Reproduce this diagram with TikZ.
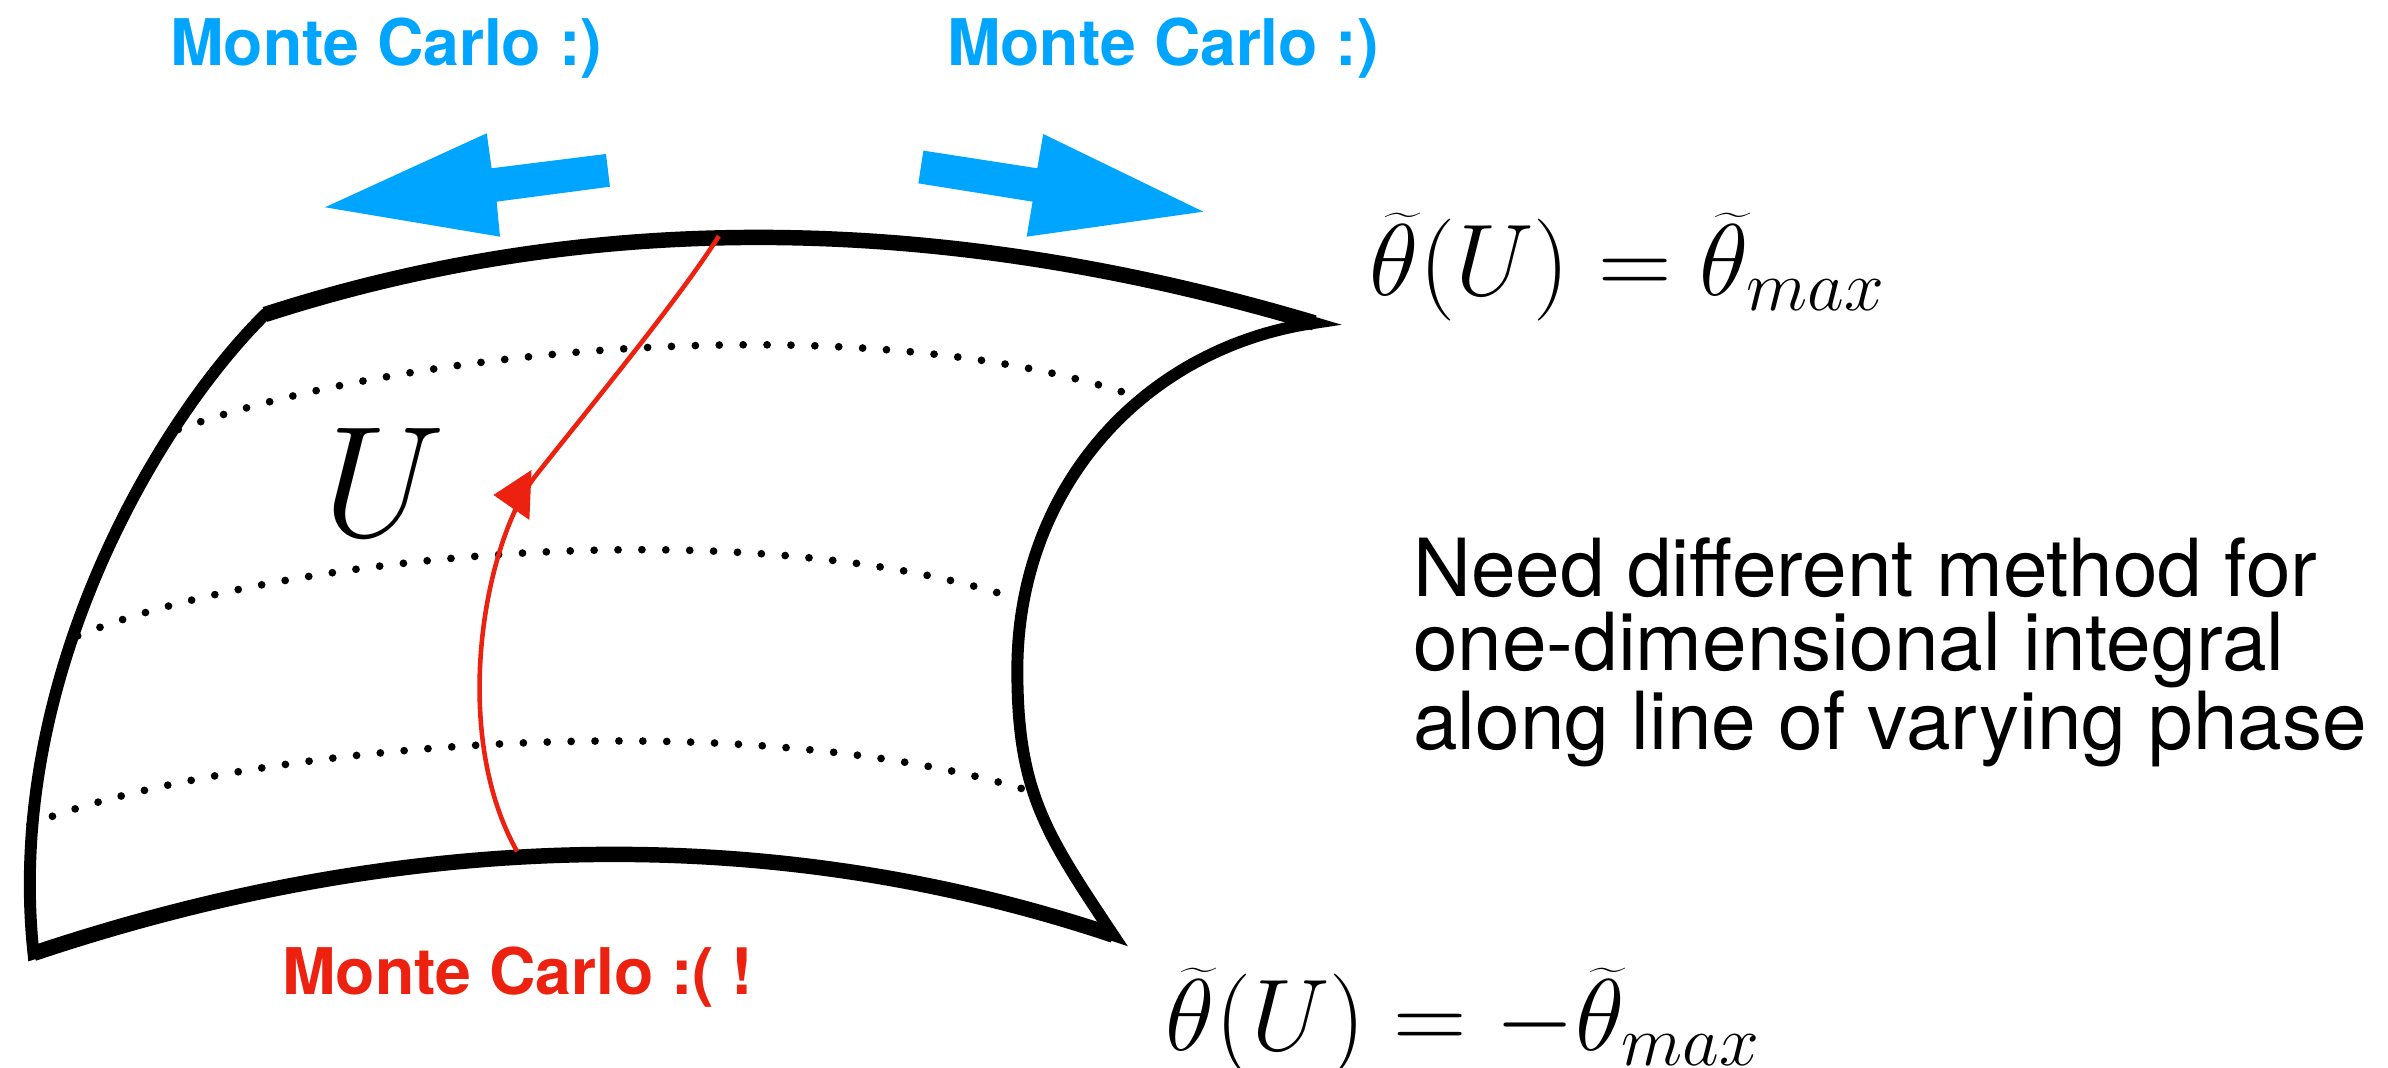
\documentclass[tikz,border=0pt]{standalone}
\usepackage{fix-cm}
\usepackage{fontspec}
\newfontfamily\heros{TeX Gyre Heros}
\definecolor{mcblue}{RGB}{0,165,255}
\definecolor{mcred}{RGB}{237,33,16}

\begin{document}
\begin{tikzpicture}[x=0.01523cm,y=-0.01523cm,
 edge/.style={line width=3.4pt,line join=miter},
 rim/.style={line width=4.4pt},
 dotline/.style={line width=2.2pt,line cap=round,dash pattern=on 0pt off 6.8pt},
 mclabel/.style={font=\heros\bfseries\fontsize{18.3}{20}\selectfont,inner sep=0pt,anchor=base},
 mathlabel/.style={font=\fontsize{29}{32}\selectfont,inner sep=0pt,anchor=base west}]
\useasboundingbox (0,0) rectangle (1568,701);
% the surface U
\draw[edge] (174,206.5) .. controls (387.7,137.3) and (618,139) .. (863,212)
 .. controls (751,228.5) and (668,320) .. (668,440)
 .. controls (668,520) and (686.6,547.4) .. (731,614)
 .. controls (509.3,540) and (270,543) .. (22,626)
 .. controls (3,450) and (100,280) .. cycle;
\draw[rim] (174,206.5) .. controls (387.7,137.3) and (618,139) .. (863,212);
\draw[rim] (22,626) .. controls (270,543) and (509.3,540) .. (731,614);
\foreach \xa/\ya/\xb/\yb/\xc/\yc/\xd/\yd in
 {117/282/260/230/560/200/739/258,
 51/417.5/180/365/480/335/661/391,
 19.7/541.4/150/490/480/460/674/518.7} {
 \draw[dotline] (\xa,\ya) .. controls (\xb,\yb) and (\xc,\yc) .. (\xd,\yd);
}
% line of varying phase
\draw[mcred,line width=1.3pt] (472,155) .. controls (446,196) and (390,264) .. (352,312)
 .. controls (318,355) and (295,480) .. (339.5,559);
\fill[mcred] (324,325) -- (349,308.6) -- (347.6,341.4) -- cycle;
% directions along the surface
\fill[mcblue] (213.4,136.1) -- (319.6,87.5) -- (322.8,110.5) -- (397.9,101.1)
 -- (400.5,122.6) -- (326.1,132.4) -- (328.3,155.4) -- cycle;
\fill[mcblue] (790.1,139) -- (685,88) -- (681.1,110.5) -- (606.3,98.9)
 -- (603,120.4) -- (678,132.4) -- (674.1,155.4) -- cycle;
\node[mclabel,text=mcblue] (mcleft) at (253.5,42.7) {Monte Carlo :)};
\node[mclabel,text=mcblue] (mcright) at (763.6,42.7) {Monte Carlo :)};
\node[mclabel,text=mcred] (mcbad) at (340,653.3) {Monte Carlo :( !};
\node[font=\fontsize{45}{50}\selectfont,inner sep=0pt,anchor=base west] (ulabel) at (212,352) {$U$};
\node[mathlabel] (thetamax) at (899,193.7) {$\widetilde{\theta}(U)=\widetilde{\theta}_{max}$};
\node[mathlabel] (thetamin) at (765,689.5) {$\widetilde{\theta}(U)=-\widetilde{\theta}_{max}$};
\node[font=\heros\fontsize{22.8}{20.8}\selectfont,align=left,inner sep=0pt,anchor=north west]
 (needtext) at (927.5,353) {Need different method for\\one-dimensional integral\\along line of varying phase};
\end{tikzpicture}
\end{document}
